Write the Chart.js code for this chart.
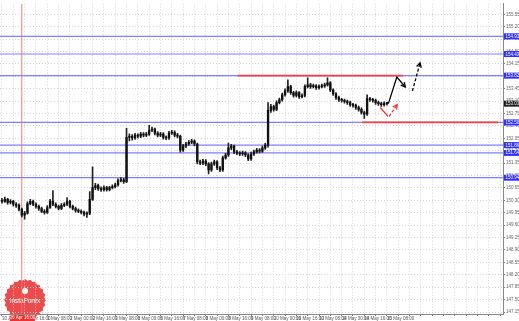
<!DOCTYPE html>
<html><head><meta charset="utf-8">
<script src="https://cdn.jsdelivr.net/npm/chart.js@4.4.1/dist/chart.umd.min.js"></script>
<style>html,body{margin:0;padding:0;background:#fff;overflow:hidden}canvas{display:block}</style>
</head><body><canvas id="c" width="519" height="321"></canvas>
<script>
// time labels every 8 two-hour bars
const xLabels = ["30 Apr 2024","30 Apr 16:00","1 May 08:00","2 May 00:00","2 May 16:00","3 May 08:00","6 May 00:00","6 May 16:00","7 May 08:00","8 May 00:00","8 May 16:00","9 May 08:00","10 May 00:00","10 May 16:00","13 May 08:00","14 May 00:00","14 May 16:00","15 May 08:00"];
const openP = [150.30,150.27,150.33,150.24,150.27,150.19,150.16,150.05,149.88,149.94,150.21,150.27,150.19,150.13,150.07,149.99,149.96,150.10,150.27,150.19,150.13,150.07,150.16,150.19,150.27,150.13,150.07,150.02,149.99,149.96,149.91,149.94,150.33,150.66,150.72,150.63,150.60,150.66,150.60,150.66,150.69,150.74,150.86,150.88,150.83,152.08,152.11,152.06,152.14,152.11,152.17,152.14,152.17,152.28,152.31,152.20,152.14,152.17,152.08,152.06,152.20,152.22,152.14,152.11,151.72,151.83,151.89,151.94,151.97,151.89,151.39,151.36,151.41,151.33,151.16,151.33,151.39,151.22,151.16,151.50,151.58,151.78,151.83,151.67,151.64,151.61,151.64,151.58,151.47,151.61,151.67,151.72,151.69,151.78,151.86,152.84,152.95,152.87,153.06,153.14,153.28,153.39,153.51,153.34,153.26,153.34,153.23,153.26,153.51,153.56,153.51,153.53,153.48,153.51,153.53,153.56,153.62,153.42,153.31,153.20,153.14,153.12,153.09,153.06,153.00,152.98,152.92,152.87,152.78,152.73,153.17,153.14,153.12,153.06,153.03,153.00,153.03];
const highP = [150.36,150.39,150.36,150.32,150.30,150.24,150.20,150.08,149.99,150.26,150.33,150.31,150.23,150.17,150.11,150.04,150.15,150.33,150.58,150.23,150.17,150.21,150.24,150.38,150.30,150.17,150.11,150.06,150.03,150.00,149.98,150.55,151.25,150.78,150.76,150.68,150.71,150.70,150.70,150.74,150.79,150.91,150.94,150.92,152.33,152.18,152.16,152.19,152.18,152.22,152.21,152.22,152.42,152.37,152.34,152.24,152.22,152.21,152.12,152.25,152.28,152.26,152.19,152.14,151.88,151.94,151.99,152.02,152.01,151.92,151.44,151.46,151.45,151.37,151.38,151.44,151.42,151.26,151.55,151.63,151.92,151.88,151.86,151.71,151.68,151.69,151.68,151.62,151.66,151.72,151.77,151.76,151.83,151.91,153.06,153.01,152.99,153.11,153.19,153.33,153.45,153.70,153.55,153.38,153.39,153.37,153.31,153.56,153.76,153.60,153.58,153.57,153.56,153.58,153.61,153.76,153.65,153.45,153.34,153.24,153.18,153.16,153.13,153.10,153.04,153.02,152.96,152.91,152.82,153.28,153.21,153.18,153.16,153.10,153.07,153.08,153.07];
const lowP = [150.22,150.24,150.19,150.20,150.14,150.10,150.00,149.83,149.77,149.91,150.17,150.15,150.08,150.02,149.95,149.91,149.93,150.07,150.15,150.09,150.03,150.04,150.12,150.15,150.09,150.03,149.97,149.95,149.92,149.86,149.82,149.90,150.30,150.60,150.58,150.55,150.56,150.56,150.57,150.62,150.65,150.70,150.82,150.78,150.80,151.98,152.00,152.02,152.06,152.07,152.09,152.10,152.13,152.24,152.15,152.09,152.10,152.03,152.01,152.02,152.16,152.09,152.06,151.66,151.68,151.79,151.85,151.90,151.84,151.33,151.31,151.31,151.28,151.05,151.12,151.29,151.17,151.11,151.12,151.46,151.54,151.73,151.62,151.59,151.56,151.57,151.53,151.42,151.43,151.57,151.63,151.64,151.65,151.74,151.80,152.78,152.82,152.83,153.02,153.10,153.24,153.35,153.29,153.21,153.22,153.18,153.19,153.22,153.47,153.46,153.47,153.43,153.44,153.47,153.49,153.52,153.37,153.26,153.15,153.09,153.07,153.04,153.01,152.95,152.93,152.87,152.82,152.73,152.61,152.70,153.09,153.07,153.01,152.98,152.95,152.96,152.99];
const closeP = [150.27,150.33,150.24,150.27,150.19,150.16,150.05,149.88,149.94,150.21,150.27,150.19,150.13,150.07,149.99,149.96,150.10,150.27,150.19,150.13,150.07,150.16,150.19,150.27,150.13,150.07,150.02,149.99,149.96,149.91,149.94,150.33,150.66,150.72,150.63,150.60,150.66,150.60,150.66,150.69,150.74,150.86,150.88,150.83,152.08,152.11,152.06,152.14,152.11,152.17,152.14,152.17,152.28,152.31,152.20,152.14,152.17,152.08,152.06,152.20,152.22,152.14,152.11,151.72,151.83,151.89,151.94,151.97,151.89,151.39,151.36,151.41,151.33,151.16,151.33,151.39,151.22,151.16,151.50,151.58,151.78,151.83,151.67,151.64,151.61,151.64,151.58,151.47,151.61,151.67,151.72,151.69,151.78,151.86,152.84,152.95,152.87,153.06,153.14,153.28,153.39,153.51,153.34,153.26,153.34,153.23,153.26,153.51,153.56,153.51,153.53,153.48,153.51,153.53,153.56,153.62,153.42,153.31,153.20,153.14,153.12,153.09,153.06,153.00,152.98,152.92,152.87,152.78,152.73,153.17,153.14,153.12,153.06,153.03,153.00,153.03,153.03];
const yTicks = [147.15,147.50,147.85,148.20,148.55,148.90,149.25,149.60,149.95,150.30,150.65,151.00,151.35,151.70,152.05,152.40,152.75,153.10,153.45,153.80,154.15,154.50,154.85,155.20,155.55];
const blueLevels = [154.93,154.43,153.82,152.50,151.86,151.64,150.94];
const redLevels = [153.82,152.50];
const redFrom = [83.4,127.2];
const redTo = [141.7,175.3];
const markerBar = 7;
const markerLabel = "30 Apr 16:00";
const currentPrice = 153.03;
const arrowBlack = [{x:136.5,y:153.03},{x:139.5,y:153.78},{x:142.5,y:153.50}];
const arrowBlackDash = [{x:145,y:153.39},{x:147.7,y:154.18}];
const arrowRed = [{x:133.6,y:152.92},{x:136.4,y:152.67}];
const arrowRedDash = [{x:136.8,y:152.67},{x:139.6,y:153.00}];

const X_MIN = -0.7, X_MAX = 177, Y_MIN = 147.094, Y_MAX = 155.85;
const FONT = "'Liberation Sans', Arial, sans-serif";

const idx = closeP.map((_, i) => i);
const datasets = [];
blueLevels.forEach(L => datasets.push({type:'line', data:[{x:X_MIN,y:L},{x:X_MAX,y:L}], borderColor:'rgba(120,120,255,0.95)', borderWidth:1.2, pointRadius:0, order:12}));
redLevels.forEach((L, k) => datasets.push({type:'line', data:[{x:redFrom[k],y:L},{x:redTo[k],y:L}], borderColor:'#f04040', borderWidth:1.7, pointRadius:0, order:8}));
datasets.push({type:'line', data:[{x:markerBar,y:Y_MIN},{x:markerBar,y:Y_MAX}], borderColor:'rgba(240,110,110,0.9)', borderWidth:1, pointRadius:0, order:9});
datasets.push({type:'bar', data: idx.map(i => ({x:i, y:[lowP[i], highP[i]]})), backgroundColor:'#222', barThickness:1, grouped:false, order:5});
datasets.push({type:'bar', data: idx.map(i => ({x:i, y:[openP[i], closeP[i]]})), backgroundColor:'#111', barThickness:1.7, grouped:false, minBarLength:1, order:4});
datasets.push({type:'line', data:arrowBlack, borderColor:'#000', borderWidth:1.3, pointRadius:0, order:1, arrow:true});
datasets.push({type:'line', data:arrowBlackDash, borderColor:'#000', borderWidth:1.3, borderDash:[3,2], pointRadius:0, order:1, arrow:true});
datasets.push({type:'line', data:arrowRed, borderColor:'#f03030', borderWidth:1.3, pointRadius:0, order:1});
datasets.push({type:'line', data:arrowRedDash, borderColor:'#f03030', borderWidth:1.3, borderDash:[3,2], pointRadius:0, order:1, arrow:true});

const deco = {
  id:'deco',
  beforeDraw(chart){
    const ctx = chart.ctx;
    ctx.save();
    const cx = 25, cy = 300, r = 21;
    ctx.fillStyle = 'rgba(236,60,60,0.92)';
    ctx.beginPath();
    for (let k = 0; k <= 48; k++) {
      const a = k / 48 * Math.PI * 2;
      const rr = (k % 2 === 0) ? r : r - 1.6;
      const px = cx + rr * Math.cos(a), py = cy + rr * Math.sin(a);
      if (k === 0) ctx.moveTo(px, py); else ctx.lineTo(px, py);
    }
    ctx.closePath(); ctx.fill();
    ctx.fillStyle = '#fff';
    ctx.beginPath(); ctx.arc(cx, cy - 9, 3, 0, Math.PI * 2); ctx.fill();
    ctx.font = "6.5px " + FONT; ctx.textAlign = 'center'; ctx.textBaseline = 'middle';
    ctx.fillText('InstaForex', cx, cy + 1);
    ctx.restore();
  },
  afterDraw(chart){
    const ctx = chart.ctx, ys = chart.scales.y, xs = chart.scales.x;
    const ca = chart.chartArea;
    ctx.save();
    chart.data.datasets.forEach((ds, di) => {
      if (!ds.arrow) return;
      const pts = chart.getDatasetMeta(di).data;
      const p1 = pts[pts.length - 2], p2 = pts[pts.length - 1];
      const ang = Math.atan2(p2.y - p1.y, p2.x - p1.x);
      ctx.strokeStyle = ds.borderColor; ctx.lineWidth = 1.3; ctx.setLineDash([]);
      ctx.beginPath();
      ctx.moveTo(p2.x - 5 * Math.cos(ang - 0.5), p2.y - 5 * Math.sin(ang - 0.5));
      ctx.lineTo(p2.x, p2.y);
      ctx.lineTo(p2.x - 5 * Math.cos(ang + 0.5), p2.y - 5 * Math.sin(ang + 0.5));
      ctx.stroke();
    });
    ctx.font = "4.5px " + FONT; ctx.textAlign = 'left'; ctx.textBaseline = 'middle';
    blueLevels.forEach(L => {
      const y = ys.getPixelForValue(L);
      ctx.fillStyle = '#2f2fff'; ctx.fillRect(ca.right + 1, y - 3, 15, 6);
      ctx.fillStyle = '#fff'; ctx.fillText(L.toFixed(2), ca.right + 2.5, y + 0.3);
    });
    const yc = ys.getPixelForValue(currentPrice);
    ctx.fillStyle = '#1c1c1c'; ctx.fillRect(ca.right + 1, yc - 3, 15, 6);
    ctx.fillStyle = '#fff'; ctx.fillText(currentPrice.toFixed(2), ca.right + 2.5, yc + 0.3);
    const xm = xs.getPixelForValue(markerBar);
    ctx.fillStyle = '#ee3030'; ctx.fillRect(xm - 12, ca.bottom + 1, 25, 6);
    ctx.fillStyle = '#fff'; ctx.textAlign = 'center';
    ctx.fillText(markerLabel, xm + 0.5, ca.bottom + 4.2);
    ctx.restore();
  }
};

new Chart(document.getElementById('c'), {
  type:'bar',
  data:{datasets},
  options:{
    responsive:false, animation:false, devicePixelRatio:1,
    layout:{padding:0},
    plugins:{legend:{display:false}, tooltip:{enabled:false}},
    events:[],
    scales:{
      x:{type:'linear', min:X_MIN, max:X_MAX, offset:false,
        afterBuildTicks(s){ const t=[]; for(let v=0; v<=176; v+=4) t.push({value:v}); s.ticks=t; },
        afterFit(s){ s.height = 7; },
        grid:{offset:false, color:'#d4d4d4', lineWidth:1, tickLength:2, tickColor:'#777', tickBorderDash:[]},
        border:{color:'#888', width:1, dash:[1,2]},
        ticks:{autoSkip:false, maxRotation:0, minRotation:0, padding:0, align:'start', color:'#555',
          font:{size:4.5, family:FONT},
          callback(v){ return (v % 8 === 0 && v / 8 < xLabels.length) ? xLabels[v / 8] : ''; }}
      },
      y:{type:'linear', position:'right', min:Y_MIN, max:Y_MAX,
        afterBuildTicks(s){ s.ticks = yTicks.map(v => ({value:v})); },
        afterFit(s){ s.width = 16; },
        grid:{color:'#d4d4d4', lineWidth:1, tickLength:2, tickColor:'#777', tickBorderDash:[]},
        border:{color:'#888', width:1, dash:[1,2]},
        ticks:{autoSkip:false, padding:1, color:'#666', font:{size:4.5, family:FONT},
          callback(v){ return Number(v).toFixed(2); }}
      }
    }
  },
  plugins:[deco]
});
</script></body></html>
